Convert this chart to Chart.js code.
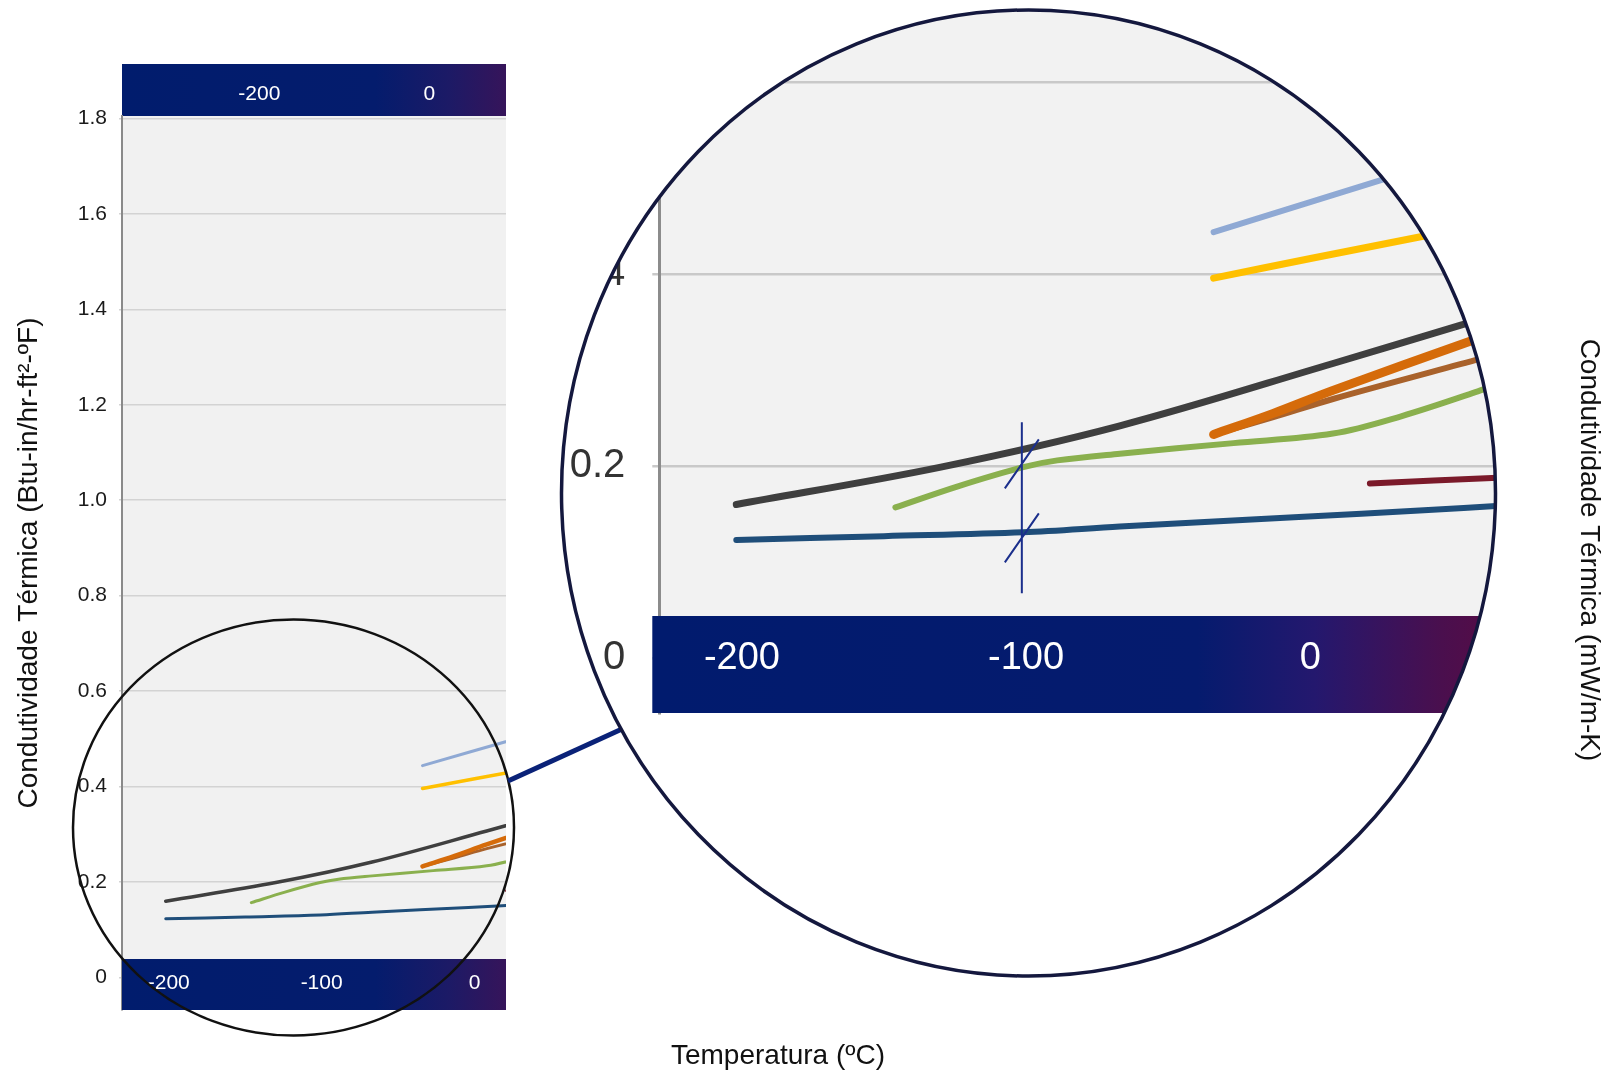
<!DOCTYPE html>
<html>
<head>
<meta charset="utf-8">
<script src="https://cdn.jsdelivr.net/npm/chart.js@4.4.1/dist/chart.umd.min.js"></script>
<style>
  html, body { margin: 0; padding: 0; background: #fff; }
  body { width: 1611px; height: 1073px; position: relative; overflow: hidden; font-family: 'Liberation Sans', Arial, sans-serif; }
  #mainBox { position: absolute; left: 0; top: 0; width: 520px; height: 1073px; }
  #zoomBox { position: absolute; left: 500px; top: 0; width: 1011px; height: 1000px;
             clip-path: ellipse(467px 483px at 528.5px 493px); background: #fff; }
  #overlay { position: absolute; left: 0; top: 0; pointer-events: none; }
  .title { position: absolute; font-size: 28px; color: #111; white-space: nowrap; }
</style>
</head>
<body>
<div id="mainBox"><canvas id="mainChart" width="520" height="1073"></canvas></div>
<div id="zoomBox"><canvas id="zoomChart" width="1011" height="1000"></canvas></div>

<svg id="overlay" width="1611" height="1073">
  <ellipse cx="293.5" cy="827.5" rx="220.5" ry="208" fill="none" stroke="#111" stroke-width="2.5"/>
  <line x1="508" y1="781" x2="622" y2="729" stroke="#0a2278" stroke-width="5"/>
  <ellipse cx="1028.5" cy="493" rx="467" ry="483" fill="none" stroke="#14183e" stroke-width="3.5"/>
</svg>

<div class="title" style="left:778px; top:1055px; transform: translate(-50%, -50%);">Temperatura (ºC)</div>
<div class="title" style="left:1590px; top:550px; transform: translate(-50%, -50%) rotate(90deg);">Condutividade Térmica (mW/m-K)</div>

<script>
// temperatures (ºC) and conductivity (Btu-in/hr-ft²-ºF) per material curve
const tempGray = [-202, -130, -67, 8, 53, 60];
const condGray = [0.160, 0.199, 0.242, 0.307, 0.347, 0.353];

const tempOrange = [-34, -13, 8, 58];
const condOrange = [0.233, 0.255, 0.279, 0.332];

const tempBrown = [-34, -13, 8, 60];
const condBrown = [0.233, 0.251, 0.270, 0.312];

const tempGreen = [-146, -124, -101, -89, -67, -27, 8, 32, 59, 66];
const condGreen = [0.157, 0.179, 0.199, 0.206, 0.213, 0.224, 0.234, 0.252, 0.278, 0.286];

const tempLightBlue = [-34, 30];
const condLightBlue = [0.444, 0.503];

const tempYellow = [-34, 1, 42];
const condYellow = [0.396, 0.417, 0.441];

const tempBlue = [-202, -150, -101, -67, -4, 40, 68];
const condBlue = [0.123, 0.127, 0.131, 0.137, 0.147, 0.154, 0.159];

const tempMaroon = [21, 66];
const condMaroon = [0.182, 0.188];

// tick labels
const celsiusTicks = [-200, -100, 0];
const fahrenheitTicks = [-200, 0];
const condTicks = [0, 0.2, 0.4, 0.6, 0.8, 1.0, 1.2, 1.4, 1.6, 1.8];

// axis break marks drawn in the zoom view
const breakAtT = -101.5;
const breakSpan = [0.0674, 0.2457];
const breakMarks = [0.2024, 0.1252];

const SANS = "'Liberation Sans', Arial, sans-serif";

const curves = [
    { label: 'Cinza', t: tempGray, k: condGray, color: '#3f3f3f', w: 3.5 },
    { label: 'Laranja', t: tempOrange, k: condOrange, color: '#d56b0a', w: 4.5 },
    { label: 'Marrom', t: tempBrown, k: condBrown, color: '#a9622b', w: 3 },
    { label: 'Verde', t: tempGreen, k: condGreen, color: '#8ab04e', w: 3 },
    { label: 'Azul claro', t: tempLightBlue, k: condLightBlue, color: '#8fa9d4', w: 3 },
    { label: 'Amarelo', t: tempYellow, k: condYellow, color: '#ffc000', w: 3.5 },
    { label: 'Azul', t: tempBlue, k: condBlue, color: '#1f4e7a', w: 3 },
    { label: 'Vinho', t: tempMaroon, k: condMaroon, color: '#7b1a2a', w: 3 }
];

function makeDatasets(scale) {
    return curves.map(c => ({
        label: c.label,
        data: c.t.map((t, i) => ({ x: t, y: c.k[i] })),
        borderColor: c.color,
        borderWidth: c.w * scale,
        borderCapStyle: 'round',
        pointRadius: 0,
        fill: false,
        tension: 0.35
    }));
}

function barGradient(ctx, x0, x1, stops) {
    const g = ctx.createLinearGradient(x0, 0, x1, 0);
    stops.forEach(s => g.addColorStop(s[0], s[1]));
    return g;
}

// keep the plot area exactly where the layout padding puts it
function noEdgePadding(s) {
    s.paddingTop = 0; s.paddingBottom = 0; s.paddingLeft = 0; s.paddingRight = 0;
}

const bandsPlugin = {
    id: 'bands',
    beforeDraw(chart, args, opts) {
        const { ctx, chartArea: a } = chart;
        ctx.save();
        ctx.fillStyle = opts.plotColor;
        ctx.fillRect(a.left, a.top, a.right - a.left, a.bottom - a.top);
        const top = chart.scales.xF;
        if (top) {
            ctx.fillStyle = barGradient(ctx, a.left, a.right, opts.stops);
            ctx.fillRect(a.left, top.top, a.right - a.left, top.bottom - top.top);
        }
        ctx.restore();
    },
    afterDatasetsDraw(chart, args, opts) {
        const { ctx, chartArea: a, scales } = chart;
        ctx.save();
        ctx.fillStyle = barGradient(ctx, a.left, a.right, opts.stops);
        ctx.fillRect(a.left - opts.barLeft, a.bottom - opts.barHeight, a.right - a.left + opts.barLeft, opts.barHeight);

        if (opts.showBreak) {
            const bx = scales.x.getPixelForValue(breakAtT);
            ctx.strokeStyle = '#1b2f8c';
            ctx.lineWidth = 2;
            ctx.beginPath();
            ctx.moveTo(bx, scales.y.getPixelForValue(breakSpan[1]));
            ctx.lineTo(bx, scales.y.getPixelForValue(breakSpan[0]));
            breakMarks.forEach(v => {
                const y = scales.y.getPixelForValue(v);
                ctx.moveTo(bx - 17, y + 24.5);
                ctx.lineTo(bx + 17, y - 24.5);
            });
            ctx.stroke();
        }
        ctx.restore();
    }
};

const condLabel = v => (Math.abs(v) < 1e-9 ? '0' : v.toFixed(1));

// main chart
new Chart(document.getElementById('mainChart'), {
    type: 'line',
    data: { datasets: makeDatasets(1) },
    plugins: [bandsPlugin],
    options: {
        responsive: false,
        animation: false,
        layout: { autoPadding: false, padding: { left: 0, right: 14, top: 64, bottom: 63 } },
        plugins: {
            legend: { display: false },
            tooltip: { enabled: false },
            bands: {
                plotColor: '#f1f1f1',
                barHeight: 51,
                barLeft: 0,
                stops: [[0, '#011c6d'], [0.66, '#041c6d'], [0.85, '#1c1a66'], [1, '#36145a']]
            }
        },
        scales: {
            x: {
                type: 'linear',
                position: 'bottom',
                min: -230.6,
                max: 20.6,
                afterFit: s => { s.height = 0; noEdgePadding(s); },
                afterBuildTicks: s => { s.ticks = celsiusTicks.map(v => ({ value: v })); },
                grid: { display: false, drawTicks: false },
                border: { display: false },
                ticks: { z: 1, mirror: true, color: '#ffffff', padding: 14, maxRotation: 0, autoSkip: false,
                         font: { family: SANS, size: 21 } }
            },
            xF: {
                type: 'linear',
                position: 'top',
                min: -361.5,
                max: 90.2,
                afterFit: s => { s.height = 52; noEdgePadding(s); },
                afterBuildTicks: s => { s.ticks = fahrenheitTicks.map(v => ({ value: v })); },
                grid: { display: false, drawTicks: false },
                border: { display: false },
                ticks: { color: '#ffffff', padding: 9, maxRotation: 0, autoSkip: false,
                         font: { family: SANS, size: 21 } }
            },
            y: {
                min: -0.068,
                max: 1.805,
                afterFit: s => { s.width = 122; noEdgePadding(s); },
                afterBuildTicks: s => { s.ticks = condTicks.map(v => ({ value: v })); },
                grid: { color: '#d3d3d3', lineWidth: 1.5, tickLength: 3 },
                border: { color: '#8a8a8a', width: 2 },
                ticks: { color: '#1a1a1a', padding: 12, callback: condLabel,
                         font: { family: SANS, size: 21 } },
                title: {
                    display: true,
                    text: 'Condutividade Térmica (Btu-in/hr-ft²-ºF)',
                    color: '#111',
                    padding: { top: 12, bottom: 0 },
                    font: { family: SANS, size: 28 }
                }
            }
        }
    }
});

// magnified view
new Chart(document.getElementById('zoomChart'), {
    type: 'line',
    data: { datasets: makeDatasets(2) },
    plugins: [bandsPlugin],
    options: {
        responsive: false,
        animation: false,
        layout: { autoPadding: false, padding: { left: 0, right: 11, top: 10, bottom: 287 } },
        plugins: {
            legend: { display: false },
            tooltip: { enabled: false },
            bands: {
                plotColor: '#f2f2f2',
                barHeight: 97,
                barLeft: 7,
                showBreak: true,
                stops: [[0, '#011b6e'], [0.64, '#051b6e'], [0.78, '#24186e'], [0.93, '#4a0f4e'], [1, '#560c45']]
            }
        },
        scales: {
            x: {
                type: 'linear',
                position: 'bottom',
                min: -229.1,
                max: 66.8,
                afterFit: s => { s.height = 0; noEdgePadding(s); },
                afterBuildTicks: s => { s.ticks = celsiusTicks.map(v => ({ value: v })); },
                grid: { display: false, drawTicks: false },
                border: { display: false },
                ticks: { z: 1, mirror: true, color: '#ffffff', padding: 32, maxRotation: 0, autoSkip: false,
                         font: { family: SANS, size: 38 } }
            },
            y: {
                min: -0.0574,
                max: 0.6756,
                afterFit: s => { s.width = 159.3; noEdgePadding(s); },
                afterBuildTicks: s => { s.ticks = condTicks.filter(v => v < 0.65).map(v => ({ value: v })); },
                grid: { color: '#c9c9c9', lineWidth: 2.5, tickLength: 7 },
                border: { color: '#8c8c8c', width: 3 },
                ticks: { color: '#333', padding: 27, callback: condLabel,
                         font: { family: SANS, size: 40 } }
            }
        }
    }
});
</script>
</body>
</html>
